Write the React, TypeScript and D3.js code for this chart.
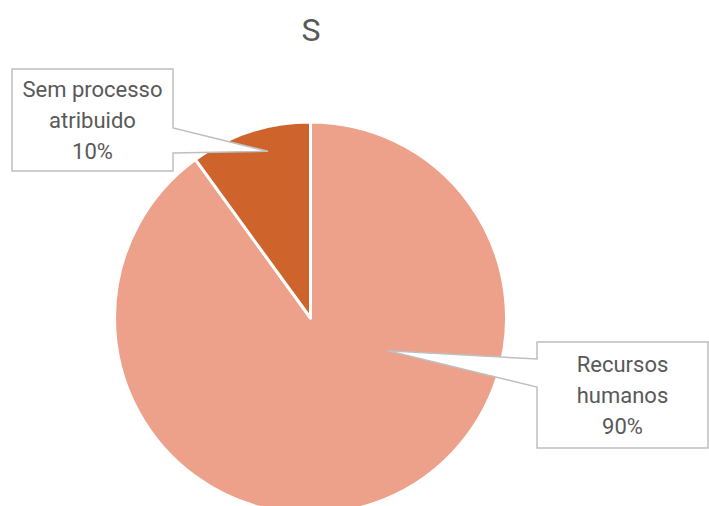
import React from "react";
import * as d3 from "d3";

const categories = ["Recursos humanos", "Sem processo atribuido"];
const values = [90, 10];
const labelLines = [["Recursos", "humanos", "90%"], ["Sem processo", "atribuido", "10%"]];
const colors = ["#EDA08A", "#CF632C"];
const title = "S";

const W = 709, H = 506;
const cx = 310.5, cy = 318, R = 196;

// callout layout: box rect, tip polar (angle deg clockwise from top, radius), wedge side
const callouts = [
  { x0: 537, y0: 342, x1: 708, y1: 448, side: "left", w0: 359, w1: 387, tipAngle: 113, tipR: 84 },
  { x0: 12, y0: 69, x1: 173, y1: 171, side: "right", w0: 128, w1: 153, tipAngle: 345.7, tipR: 172 },
];

export default function App() {
  const pie = d3.pie<number>().sort(null).startAngle(0).endAngle(2 * Math.PI);
  const arcs = pie(values);
  const arc = d3.arc<d3.PieArcDatum<number>>().innerRadius(0).outerRadius(R);
  const font = "Roboto, 'Noto Sans', sans-serif";
  return (
    <svg width={W} height={H} style={{ position: "absolute", left: 0, top: 0, background: "#fff" }}>
      <rect width={W} height={H} fill="#fff" />
      <text x={311} y={41} textAnchor="middle" fontFamily={font} fontSize={32} fill="#595959">{title}</text>
      <g transform={`translate(${cx},${cy})`}>
        {arcs.map((a, i) => (
          <path key={categories[i]} d={arc(a) || ""} fill={colors[i]} stroke="#fff" strokeWidth={3} strokeLinejoin="round" />
        ))}
      </g>
      {callouts.map((c, i) => {
        const ang = (c.tipAngle * Math.PI) / 180;
        const tx = cx + c.tipR * Math.sin(ang);
        const ty = cy - c.tipR * Math.cos(ang);
        const d = c.side === "right"
          ? `M${c.x0},${c.y0} H${c.x1} V${c.w0} L${tx},${ty} L${c.x1},${c.w1} V${c.y1} H${c.x0} Z`
          : `M${c.x0},${c.y0} H${c.x1} V${c.y1} H${c.x0} V${c.w1} L${tx},${ty} L${c.x0},${c.w0} Z`;
        const mx = (c.x0 + c.x1) / 2;
        const my = (c.y0 + c.y1) / 2;
        const lines = labelLines[i];
        return (
          <g key={i}>
            <path d={d} fill="#fff" stroke="#BFBFBF" strokeWidth={1.5} />
            {lines.map((t, j) => (
              <text key={j} x={mx} y={my + (j - (lines.length - 1) / 2) * 31} dy="0.35em" textAnchor="middle"
                fontFamily={font} fontSize={22} fill="#595959">{t}</text>
            ))}
          </g>
        );
      })}
    </svg>
  );
}
